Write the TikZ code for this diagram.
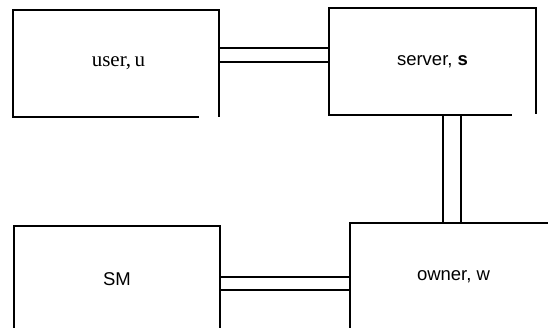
\documentclass[tikz,border=0pt]{standalone}
\usepackage{fontspec}
\setmainfont{Liberation Serif}
\setsansfont{Liberation Sans}
\usetikzlibrary{positioning,calc}

\begin{document}
\begin{tikzpicture}[x=1pt,y=-1pt,
party/.style={minimum width=206pt,minimum height=107pt,inner sep=0pt,font=\sffamily\fontsize{18.5}{20}\selectfont},
wall/.style={line width=2pt,line cap=rect},
link/.style={line width=1.5pt}]
\useasboundingbox (0,0) rectangle (548,327);
\clip (0,0) rectangle (548,327);
\node[party,font=\rmfamily\fontsize{21}{22}\selectfont] (user) at (116,63.5) {\hspace{5pt}user,\,u};
\node[party] (server) at (432.5,61.5) {server, \textbf{s}};
\node[party] (owner) at (453.5,276.5) {owner, w};
\node[party] (sm) at (117,279.5) {SM};
% outlines (open at some corners)
\draw[wall] ([xshift=-21pt]user.south east) -- (user.south west) -- (user.north west) -- (user.north east) -- ([yshift=1.5pt]user.south east);
\draw[wall] ([xshift=-25pt]server.south east) -- (server.south west) -- (server.north west) -- (server.north east) -- ([yshift=2pt]server.south east);
\draw[wall] (owner.south west) -- (owner.north west) -- (owner.north east);
\draw[wall] (sm.south west) -- (sm.north west) -- (sm.north east) -- (sm.south east);
% double links
\draw[link] ([yshift=15.5pt]user.east) -- ([yshift=15.5pt]user.east -| server.west);
\draw[link] ([yshift=1.5pt]user.east) -- ([yshift=1.5pt]user.east -| server.west);
\draw[link] ([xshift=10.5pt]server.south) -- ([xshift=10.5pt]server.south |- owner.north);
\draw[link] ([xshift=28.5pt]server.south) -- ([xshift=28.5pt]server.south |- owner.north);
\draw[link] ([yshift=2.5pt]sm.east) -- ([yshift=2.5pt]sm.east -| owner.west);
\draw[link] ([yshift=-10.5pt]sm.east) -- ([yshift=-10.5pt]sm.east -| owner.west);
\end{tikzpicture}
\end{document}
